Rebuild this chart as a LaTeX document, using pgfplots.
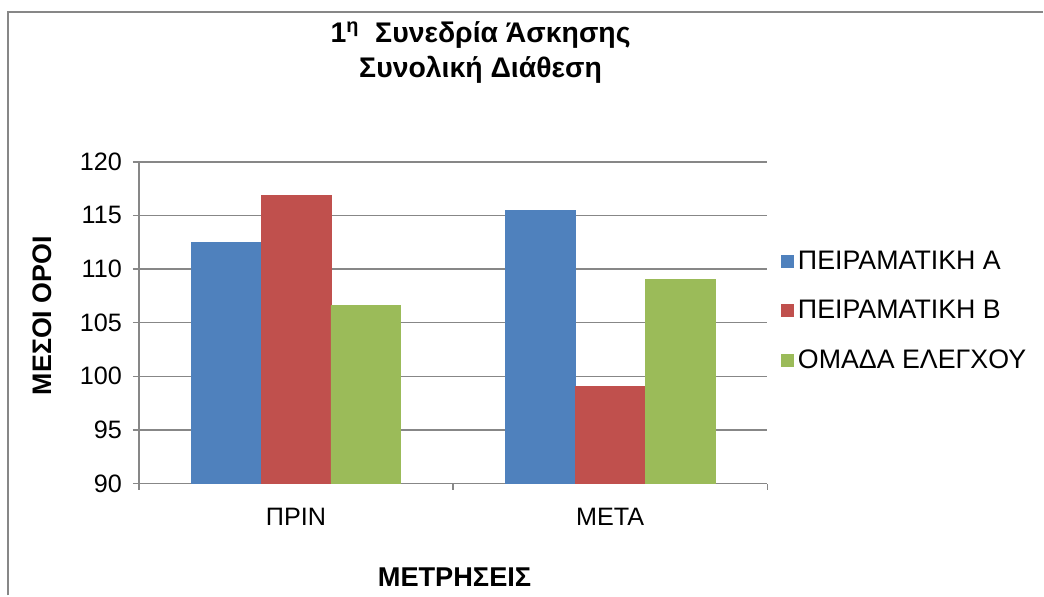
\documentclass[border=0pt]{standalone}
\usepackage{fontspec}
\setmainfont{Liberation Sans}
\usepackage{pgfplots}
\pgfplotsset{compat=1.18}

\definecolor{barA}{HTML}{4F81BD}
\definecolor{barB}{HTML}{C0504D}
\definecolor{barC}{HTML}{9BBB59}
\definecolor{gridgray}{HTML}{878787}

\begin{document}
\begin{tikzpicture}[x=1pt,y=1pt,font=\fontsize{12.6}{15}\selectfont]
% page frame (1px = 0.5pt)
\path (0,0) rectangle (522,298);
\draw[gridgray, line width=1pt] (4,0) -- (4,292) -- (522,292);

\node[font=\fontsize{14.2}{17}\selectfont\bfseries] at (240.5,280.5) {1\textsuperscript{η}\ \ Συνεδρία Άσκησης};
\node[font=\fontsize{14.2}{17}\selectfont\bfseries] at (240.5,263) {Συνολική Διάθεση};

\begin{axis}[
    at={(69.5pt,56pt)}, anchor=south west,
    width=314.5pt, height=161pt, scale only axis,
    ybar=0pt, bar width=35pt,
    xmin=-0.5, xmax=1.5,
    ymin=90, ymax=120,
    ytick={90,95,...,120},
    xtick={0,1},
    xticklabels={ΠΡΙΝ, ΜΕΤΑ},
    major x tick style={draw=none},
    minor xtick={-0.5,0.5,1.5},
    minor tick length=3pt,
    major tick length=3pt,
    tick align=outside,
    axis x line*=bottom, axis y line*=left,
    axis line style={gridgray, line width=0.75pt, -},
    every tick/.style={gridgray, line width=0.75pt},
    ymajorgrids,
    grid style={gridgray, line width=0.75pt},
    /pgf/number format/assume math mode=true,
    yticklabel style={xshift=-2pt},
    xticklabel style={yshift=-6pt},
    legend style={at={(1.012,0.75)}, anchor=north west, draw=none, fill=none,
        row sep=10pt, font=\fontsize{13.4}{15}\selectfont},
    legend cell align=left,
    legend image code/.code={\fill[#1] (0pt,-3pt) rectangle (6pt,3pt);},
]
\addplot[fill=barA, draw=barA] coordinates {(0,112.45) (1,115.46)};
\addlegendentry{ΠΕΙΡΑΜΑΤΙΚΗ Α}
\addplot[fill=barB, draw=barB] coordinates {(0,116.9) (1,99.08)};
\addlegendentry{ΠΕΙΡΑΜΑΤΙΚΗ Β}
\addplot[fill=barC, draw=barC] coordinates {(0,106.6) (1,109.06)};
\addlegendentry{ΟΜΑΔΑ ΕΛΕΓΧΟΥ}
\end{axis}

\node[font=\fontsize{13.4}{15}\selectfont\bfseries, rotate=90] at (21,140) {ΜΕΣΟΙ ΟΡΟΙ};
\node[font=\fontsize{13.6}{15}\selectfont\bfseries] at (227.5,9) {ΜΕΤΡΗΣΕΙΣ};
\end{tikzpicture}
\end{document}
